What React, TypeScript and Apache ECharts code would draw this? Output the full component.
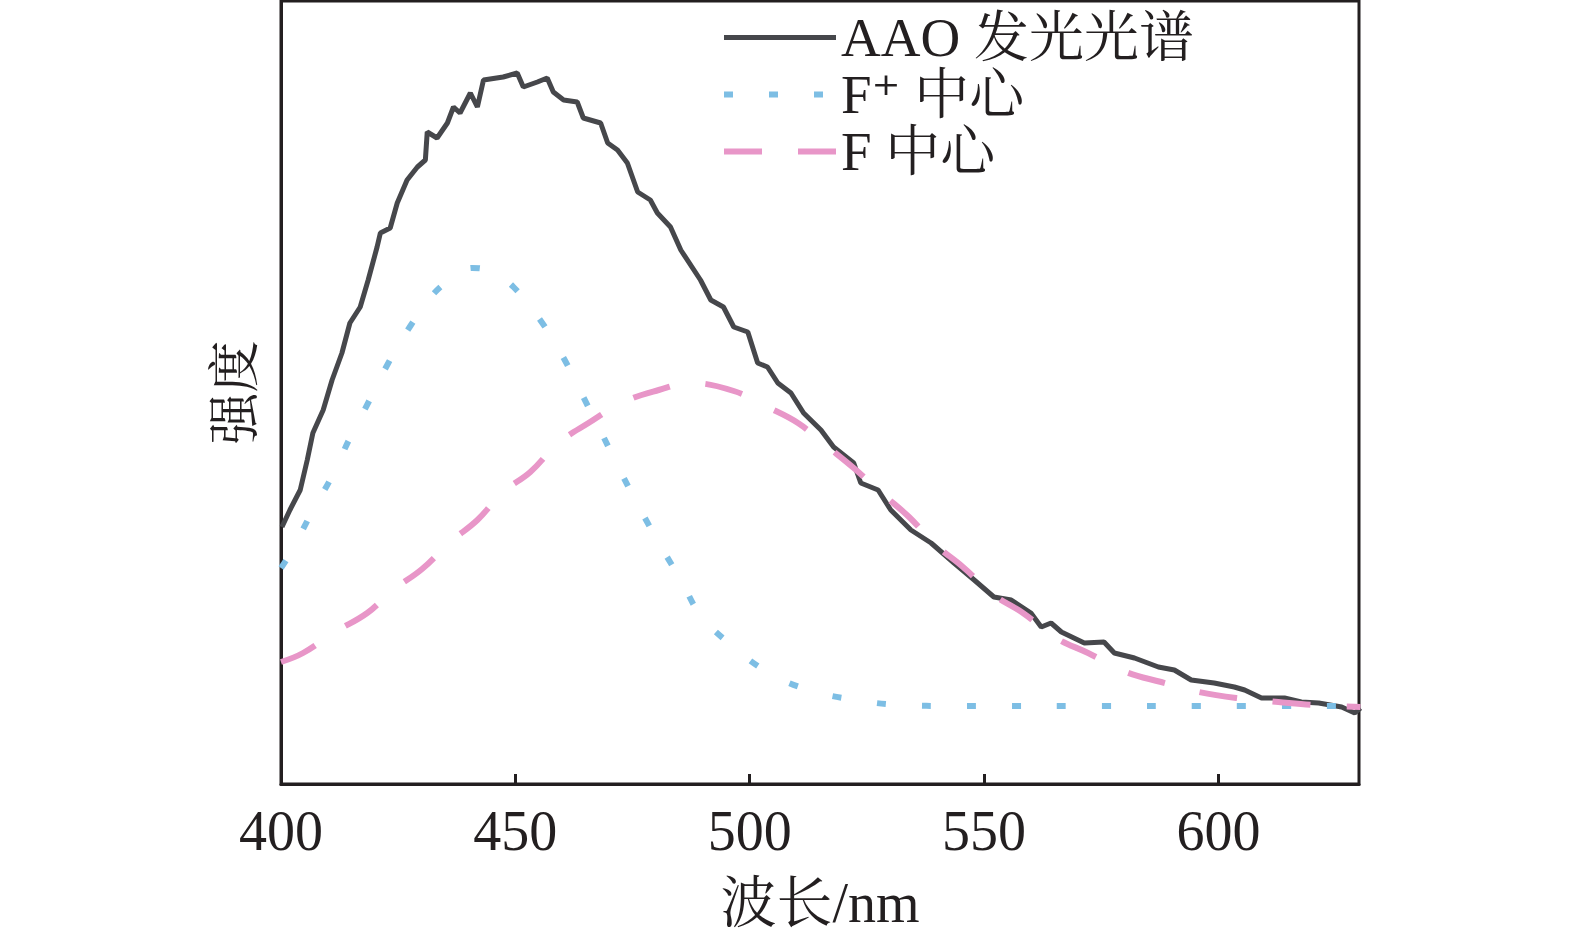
import React, { useEffect, useRef } from 'react';
import * as echarts from 'echarts';

const FONT = '"Liberation Serif", "Times New Roman", "DejaVu Serif", "Noto Serif CJK SC", "Noto Sans CJK SC", serif';
const INK = '#231f20';

const seriesNames = ['AAO 发光光谱', 'F⁺ 中心', 'F 中心'];
const seriesColors = ['#46474b', '#7dbee4', '#e896c8'];

// [wavelength (nm), intensity (a.u.)]
const aaoSpectrum: [number, number][] = [
  [400.2, 257], [401.9, 274], [404.1, 294], [405.6, 324], [406.8, 351], [409.0, 374],
  [410.9, 404], [413.0, 431], [414.7, 461], [416.9, 477], [418.6, 504], [420.5, 537],
  [421.2, 551], [423.3, 556], [424.8, 581], [426.9, 604], [429.1, 617], [430.8, 624],
  [431.2, 652], [433.3, 646], [435.5, 661], [436.8, 677], [438.2, 671], [440.4, 691],
  [441.9, 677], [443.2, 704], [447.4, 707], [450.4, 711], [451.7, 697], [454.7, 702],
  [456.8, 706], [458.1, 692], [460.3, 684], [463.2, 682], [464.5, 666], [468.2, 661],
  [469.7, 641], [471.8, 634], [473.9, 621], [476.1, 592], [478.8, 584], [480.3, 571],
  [483.1, 557], [485.3, 534], [489.5, 504], [491.7, 484], [494.4, 477], [496.6, 457],
  [499.6, 452], [501.7, 421], [503.8, 417], [506.0, 401], [508.8, 391], [511.5, 371],
  [515.2, 354], [517.9, 337], [522.2, 321], [523.7, 301], [527.4, 294], [530.1, 274],
  [534.4, 254], [538.7, 241], [543.6, 221], [547.9, 204], [552.1, 187], [555.8, 184],
  [560.0, 171], [562.2, 157], [564.3, 161], [566.5, 152], [571.4, 141], [575.6, 142],
  [577.8, 131], [582.1, 126], [587.2, 117], [590.6, 114], [594.2, 104], [599.1, 101],
  [603.4, 97], [605.6, 94], [609.2, 86], [614.1, 86], [617.7, 82], [621.4, 81],
  [626.3, 77], [629.1, 71], [630.3, 76],
];

const fPlusCenter: [number, number][] = [
  [400.0, 216], [402.4, 234], [406.6, 272], [410.9, 308], [414.7, 346], [418.8, 383],
  [422.9, 421], [427.6, 458], [432.5, 490], [437.2, 508], [440.8, 516], [445.1, 512],
  [449.6, 497], [455.6, 462], [460.3, 426], [464.5, 387], [468.6, 349], [472.6, 311],
  [476.5, 276], [481.0, 238], [485.3, 204], [489.5, 169], [495.5, 141], [503.8, 112],
  [512.6, 94], [522.6, 84], [532.3, 79], [543.0, 78], [553.6, 78], [575.0, 78],
  [596.4, 78], [630.3, 78],
];

const fCenter: [number, number][] = [
  [400.0, 122], [404.7, 131], [411.5, 152], [418.4, 171], [423.9, 194], [430.1, 215],
  [436.1, 242], [441.9, 264], [447.4, 292], [453.2, 312], [459.2, 341], [465.6, 361],
  [473.1, 382], [480.6, 394], [487.4, 401], [496.6, 393], [503.8, 377], [510.3, 361],
  [516.7, 337], [522.2, 316], [528.6, 289], [534.0, 267], [539.7, 239], [545.5, 217],
  [552.1, 189], [558.3, 171], [565.4, 146], [572.2, 131], [580.3, 112], [587.8, 102],
  [595.9, 92], [603.8, 86], [612.8, 82], [620.3, 79], [630.3, 77],
];

const xMin = 400;
const xMax = 630;
const xStep = 50;
const yMax = 783;

export default function App() {
  const chartRef = useRef<HTMLDivElement>(null);

  useEffect(() => {
    if (!chartRef.current) return;
    const chart = echarts.init(chartRef.current, null, { renderer: 'svg' });

    chart.setOption({
      animation: false,
      backgroundColor: '#ffffff',
      textStyle: { fontFamily: FONT, color: INK },
      grid: {
        left: 281,
        right: 216,
        top: 1,
        bottom: 152,
        show: true,
        borderColor: INK,
        borderWidth: 3,
      },
      legend: {
        orient: 'vertical',
        left: 716,
        top: 4,
        itemWidth: 112,
        itemHeight: 14,
        itemGap: 0,
        data: seriesNames,
        // hide the circle ECharts puts in the middle of line icons
        itemStyle: { opacity: 0 },
        lineStyle: { width: 'inherit', type: 'inherit' },
        textStyle: {
          color: INK,
          fontFamily: FONT,
          fontSize: 55,
          lineHeight: 57,
        },
      },
      xAxis: {
        type: 'value',
        min: xMin,
        max: xMax,
        interval: xStep,
        name: '波长/nm',
        nameLocation: 'middle',
        nameGap: 91,
        nameTextStyle: { fontSize: 56, color: INK, fontFamily: FONT },
        axisLine: { show: true, lineStyle: { color: INK, width: 3 } },
        axisTick: { show: true, inside: true, length: 10, lineStyle: { color: INK, width: 3 } },
        axisLabel: { fontSize: 56, color: INK, fontFamily: FONT, margin: 19, showMaxLabel: false },
        splitLine: { show: false },
      },
      yAxis: {
        type: 'value',
        min: 0,
        max: yMax,
        name: '强度',
        nameLocation: 'middle',
        nameRotate: 90,
        nameGap: 20,
        nameTextStyle: { fontSize: 52, color: INK, fontFamily: FONT },
        axisLine: { show: true, lineStyle: { color: INK, width: 3 } },
        axisTick: { show: false },
        axisLabel: { show: false },
        splitLine: { show: false },
      },
      series: [
        {
          name: seriesNames[0],
          type: 'line',
          data: aaoSpectrum,
          symbol: 'none',
          z: 2,
          lineStyle: { color: seriesColors[0], width: 5 },
          itemStyle: { color: seriesColors[0] },
        },
        {
          name: seriesNames[1],
          type: 'line',
          data: fPlusCenter,
          symbol: 'none',
          smooth: 0.4,
          z: 3,
          lineStyle: { color: seriesColors[1], width: 6, type: [9, 36] },
          itemStyle: { color: seriesColors[1] },
        },
        {
          name: seriesNames[2],
          type: 'line',
          data: fCenter,
          symbol: 'none',
          smooth: 0.4,
          z: 4,
          lineStyle: { color: seriesColors[2], width: 6, type: [38, 36] },
          itemStyle: { color: seriesColors[2] },
        },
      ],
    });

    return () => chart.dispose();
  }, []);

  return (
    <div
      ref={chartRef}
      style={{ position: 'fixed', left: 0, top: 0, width: 1575, height: 936, background: '#fff' }}
    />
  );
}
